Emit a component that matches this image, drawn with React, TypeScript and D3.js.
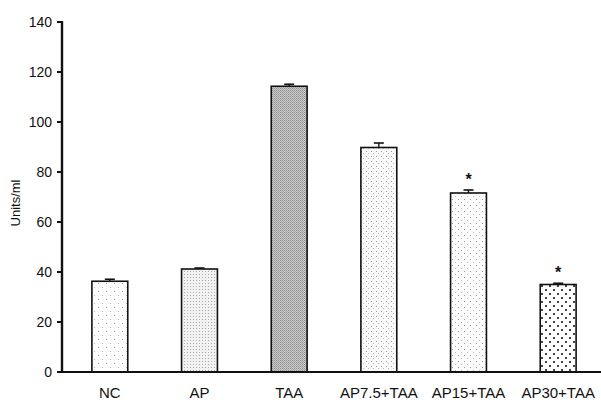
import React from "react";
import * as d3 from "d3";

const groups = ["NC", "AP", "TAA", "AP7.5+TAA", "AP15+TAA", "AP30+TAA"];
const means = [36.3, 41.2, 114.3, 89.8, 71.6, 35.0];
const errors = [0.8, 0.4, 0.8, 1.8, 1.2, 0.5];
const marked = [false, false, false, false, true, true];
const fills = ["url(#pNC)", "url(#pAP)", "url(#pTAA)", "url(#pAP75)", "url(#pAP15)", "url(#pAP30)"];
const yTicks = [0, 20, 40, 60, 80, 100, 120, 140];

const W = 601;
const H = 402;
const font = "Arial, 'Liberation Sans', Helvetica, sans-serif";

const App = () => {
  const x = d3.scaleBand<string>()
    .domain(groups)
    .range([65, 603])
    .paddingInner(0.6)
    .paddingOuter(0.3);

  const y = d3.scaleLinear().domain([0, 140]).range([372, 22]);
  const axisX = 62;

  return (
    <svg width={W} height={H} style={{ position: "fixed", left: 0, top: 0, background: "#fff" }}>
      <defs>
        <pattern id="pNC" width="8" height="8" patternUnits="userSpaceOnUse">
          <rect width="8" height="8" fill="#fff" />
          <rect x="2" y="3" width="1" height="1" fill="#999" />
          <rect x="6" y="7" width="1" height="1" fill="#bbb" />
        </pattern>
        <pattern id="pAP" width="3" height="3" patternUnits="userSpaceOnUse">
          <rect width="3" height="3" fill="#f2f2f2" />
          <rect x="1" y="1" width="1" height="1" fill="#aaa" />
        </pattern>
        <pattern id="pTAA" width="2" height="2" patternUnits="userSpaceOnUse">
          <rect width="2" height="2" fill="#cbcbcb" />
          <rect x="0" y="0" width="1" height="1" fill="#8c8c8c" />
          <rect x="1" y="1" width="1" height="1" fill="#a8a8a8" />
        </pattern>
        <pattern id="pAP75" width="5" height="5" patternUnits="userSpaceOnUse">
          <rect width="5" height="5" fill="#fafafa" />
          <rect x="1" y="1" width="1" height="1" fill="#999" />
          <rect x="3" y="3" width="1" height="1" fill="#bbb" />
        </pattern>
        <pattern id="pAP15" width="6" height="6" patternUnits="userSpaceOnUse">
          <rect width="6" height="6" fill="#fcfcfc" />
          <rect x="2" y="1" width="1" height="1" fill="#999" />
          <rect x="5" y="4" width="1" height="1" fill="#bbb" />
        </pattern>
        <pattern id="pAP30" width="8" height="8" patternUnits="userSpaceOnUse">
          <rect width="8" height="8" fill="#fff" />
          <rect x="1" y="1" width="2" height="2" fill="#444" />
          <rect x="5" y="5" width="2" height="2" fill="#444" />
        </pattern>
      </defs>

      {/* bars */}
      {groups.map((g, i) => {
        const x0 = x(g)!;
        const bw = x.bandwidth();
        const cx = x0 + bw / 2;
        const top = y(means[i]);
        const errTop = y(means[i] + errors[i]);
        return (
          <g key={g}>
            <rect x={x0} y={top} width={bw} height={y(0) - top}
              fill={fills[i]} stroke="#111" strokeWidth={1.6} />
            <line x1={cx} x2={cx} y1={top} y2={errTop} stroke="#111" strokeWidth={1.4} />
            <line x1={cx - 5} x2={cx + 5} y1={errTop} y2={errTop} stroke="#111" strokeWidth={1.6} />
            {marked[i] && (
              <text x={cx} y={errTop - 5} textAnchor="middle" fontFamily={font}
                fontSize={16} fontWeight="bold" fill="#111">*</text>
            )}
          </g>
        );
      })}

      {/* y axis */}
      <line x1={axisX} x2={axisX} y1={y(140) - 1} y2={y(0) + 1} stroke="#111" strokeWidth={2.4} />
      {yTicks.map((t) => (
        <g key={t}>
          <line x1={axisX - 5} x2={axisX} y1={y(t)} y2={y(t)} stroke="#111" strokeWidth={2} />
          <text x={52} y={y(t) + 5} textAnchor="end" fontFamily={font} fontSize={14} fill="#111">{t}</text>
        </g>
      ))}

      {/* x axis */}
      <line x1={axisX - 5} x2={W} y1={y(0)} y2={y(0)} stroke="#111" strokeWidth={2.2} />
      {groups.map((g) => (
        <text key={g} x={x(g)! + x.bandwidth() / 2} y={398} textAnchor="middle"
          fontFamily={font} fontSize={15} fill="#111">{g}</text>
      ))}

      <text transform={`translate(20, 203) rotate(-90)`} textAnchor="middle"
        fontFamily={font} fontSize={13} fill="#111">Units/ml</text>
    </svg>
  );
};

export default App;
